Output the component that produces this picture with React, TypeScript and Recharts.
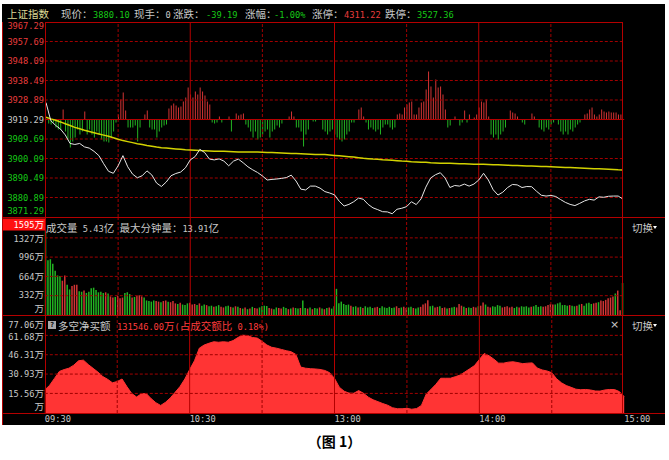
import React from 'react';
import { ComposedChart, Line, Bar, Area, XAxis, YAxis, ReferenceLine, Cell } from 'recharts';

const W = 669;
const H = 460;

const PREV_CLOSE = 3919.29;

const PRICE_TICKS = [3871.29, 3880.89, 3890.49, 3900.09, 3909.69, 3919.29, 3928.89, 3938.49, 3948.09, 3957.69, 3967.29];
const VOL_TICKS = [0, 332, 664, 996, 1327, 1595];
const NET_TICKS = [0, 15.56, 30.93, 46.31, 61.68, 77.06];
const TIME_TICKS = [0, 60, 120, 180, 240];
const TIME_LABELS = ['09:30', '10:30', '13:00', '14:00', '15:00'];
const HALF_HOURS = [30, 90, 150, 210];
const HOURS = [60, 120, 180];

// price / average / net buy, one value every 2 minutes (121)
const PRICE = [
  3927.6, 3918.7, 3916.4, 3914.6, 3911.7, 3907.5, 3907.0, 3907.5, 3905.8, 3905.2,
  3903.6, 3901.5, 3897.5, 3893.8, 3892.8, 3896.5, 3901.5, 3896.0, 3892.4, 3890.6,
  3891.6, 3894.0, 3892.0, 3888.0, 3886.3, 3888.5, 3891.6, 3892.7, 3893.4, 3895.5,
  3899.4, 3901.0, 3904.6, 3903.0, 3899.8, 3899.4, 3899.9, 3898.8, 3896.5, 3898.8,
  3899.8, 3898.0, 3896.0, 3894.5, 3893.2, 3891.5, 3889.5, 3889.8, 3890.0, 3890.3,
  3890.7, 3891.9, 3889.0, 3885.0, 3884.6, 3886.5, 3886.5, 3885.5, 3883.8, 3883.1,
  3882.2, 3879.0, 3876.7, 3877.5, 3878.8, 3880.6, 3880.0, 3877.5, 3875.8, 3874.9,
  3873.9, 3873.8, 3872.9, 3875.1, 3875.6, 3876.4, 3878.8, 3877.4, 3880.2, 3886.0,
  3890.5, 3892.1, 3893.1, 3890.5, 3885.8, 3886.8, 3886.5, 3887.5, 3886.5, 3887.5,
  3889.5, 3892.8, 3889.5, 3884.7, 3882.1, 3883.5, 3885.8, 3887.3, 3887.1, 3885.8,
  3886.3, 3886.2, 3884.0, 3882.0, 3881.6, 3881.9, 3881.4, 3879.9, 3878.5, 3877.5,
  3876.9, 3878.0, 3879.2, 3880.0, 3879.6, 3881.2, 3881.0, 3881.5, 3881.6, 3881.6, 3880.1,
];

const AVG = [
  3920.4, 3919.6, 3918.9, 3918.1, 3917.2, 3916.3, 3915.4, 3914.7, 3914.0, 3913.4,
  3912.8, 3912.2, 3911.6, 3911.0, 3910.3, 3909.6, 3908.9, 3908.4, 3907.9, 3907.4,
  3907.0, 3906.5, 3906.1, 3905.7, 3905.4, 3905.2, 3905.0, 3904.8, 3904.6, 3904.4,
  3904.3, 3904.2, 3904.0, 3903.9, 3903.8, 3903.7, 3903.6, 3903.6, 3903.5, 3903.4,
  3903.3, 3903.3, 3903.3, 3903.3, 3903.3, 3903.2, 3903.1, 3903.0, 3902.9, 3902.8,
  3902.7, 3902.6, 3902.5, 3902.4, 3902.3, 3902.2, 3902.1, 3902.0, 3902.0, 3901.8,
  3901.6, 3901.4, 3901.2, 3901.0, 3900.8, 3900.5, 3900.2, 3900.0, 3899.8, 3899.7,
  3899.5, 3899.4, 3899.2, 3899.0, 3898.8, 3898.7, 3898.5, 3898.4, 3898.3, 3898.2,
  3898.0, 3897.9, 3897.8, 3897.8, 3897.7, 3897.6, 3897.5, 3897.5, 3897.4, 3897.3,
  3897.2, 3897.2, 3897.1, 3897.0, 3897.0, 3896.9, 3896.8, 3896.7, 3896.6, 3896.5,
  3896.4, 3896.4, 3896.3, 3896.2, 3896.1, 3896.0, 3895.9, 3895.8, 3895.7, 3895.6,
  3895.5, 3895.4, 3895.3, 3895.2, 3895.1, 3895.0, 3894.9, 3894.8, 3894.7, 3894.5, 3894.4,
];

const NET = [
  18.3, 22.0, 27.5, 33.0, 34.5, 35.6, 38.0, 41.5, 42.0, 38.5,
  35.5, 32.5, 29.0, 26.8, 24.0, 25.0, 27.0, 21.0, 15.5, 12.7,
  15.2, 15.5, 11.5, 8.2, 6.0, 8.5, 12.0, 16.5, 21.0, 27.0,
  34.5, 41.5, 51.5, 54.0, 55.4, 56.6, 56.2, 56.6, 56.2, 57.5,
  60.0, 61.8, 61.5, 60.0, 59.5, 57.0, 54.0, 52.2, 51.5, 50.5,
  49.5, 48.7, 46.5, 36.5, 35.6, 35.2, 35.0, 34.6, 33.8, 32.0,
  27.5, 20.5, 17.3, 15.8, 15.7, 17.8, 15.7, 12.6, 10.5, 9.0,
  7.5, 6.2, 4.2, 3.4, 3.4, 3.7, 3.0, 3.5, 6.0, 15.0,
  18.8, 22.8, 27.6, 27.6, 27.6, 28.8, 30.1, 32.6, 35.1, 37.7,
  42.5, 47.2, 45.5, 42.8, 39.6, 39.6, 40.4, 40.7, 40.0, 39.2,
  39.6, 39.8, 35.7, 34.2, 33.4, 32.0, 27.2, 24.0, 21.8, 20.4,
  18.9, 18.5, 18.7, 18.3, 17.5, 17.4, 18.3, 18.7, 18.6, 17.0, 13.0,
];

// per-minute buy/sell strength bars (241)
const DIFF = [
  0, -4, -5, -3, -8, -10, -10, 10, -12, -20,
  -28, -22, -18, -10, -15, -12, 8, -15, -10, -15,
  -18, -12, -15, -20, -22, -22, -23, -18, -12, -3,
  5, 20, 27, 9, -8, -8, -8, -6, -22, -8,
  0, 5, 9, -8, -10, -10, -18, -12, -8, -6,
  -5, 11, 14, 16, 14, 12, 13, 18, 22, 32,
  25, 22, 28, 25, 32, 28, 24, 18, 15, -3,
  -4, -3, 3, -3, 0, 0, 3, -12, 0, 6,
  4, 5, 6, -5, -8, -12, -18, -12, -20, -18,
  -15, -12, -10, -18, -12, -10, -6, -8, -4, 0,
  0, 3, 8, 3, -8, -8, -12, -27, -15, -10,
  0, -2, -2, 0, 0, -10, -12, -15, -12, -10,
  -15, -18, -20, -22, -20, -15, -12, -3, -3, 0,
  10, 12, 3, -3, -10, -8, -10, -12, -10, -15,
  -8, -5, -5, -8, -10, -8, 5, 6, 5, 12,
  15, 17, 18, 5, 5, 12, 17, 18, 30, 48,
  33, 22, 40, 32, 33, 25, 10, -8, -6, 0,
  3, 0, -6, -3, 9, -3, 5, 0, 2, 5,
  12, 18, 17, 20, 3, -15, -18, -15, -20, -15,
  -12, -8, 0, 9, 7, 6, 3, 0, -3, -5,
  0, 0, 6, 3, 0, -8, -10, -12, -8, -10,
  -5, -3, 0, -5, -12, -15, -12, -15, -10, -12,
  -8, -5, -3, 0, 5, 6, 10, 12, 5, 3,
  5, 10, 8, 7, 8, 7, 7, 7, 5, 5, 0,
];

// per-minute volume, 万 (241)
const VOL = [
  1450, 940, 960, 880, 760, 680, 670, 590, 680, 520, 440, 500, 520, 520,
  410, 400, 420, 380, 400, 460, 470, 430, 390, 400, 380, 390, 370,
  320, 300, 310, 330, 290, 300, 380, 390, 360, 300, 310, 330, 340, 320, 300,
  250, 240, 230, 250, 240, 230, 220, 240, 250, 230, 220, 240,
  200, 190, 210, 180, 170, 200, 210, 180, 190, 170, 200, 160, 180, 170,
  150, 160, 140, 150, 170, 140, 130, 150, 160, 140, 130, 150, 140,
  120, 110, 130, 100, 110, 140, 120, 110, 130, 150, 160, 155, 120, 110, 100, 130, 120, 110, 140, 120,
  100, 110, 130, 120, 110, 120,
  250,
  120, 110, 130, 100, 120, 110, 130, 110, 100, 120, 130, 110,
  150, 450,
  200, 230, 190, 170, 180, 160, 140, 150, 130, 140, 120, 150, 130, 140, 120, 130, 140, 120, 150,
  130, 120, 140, 120, 130, 150, 120, 130, 140, 120, 130, 140, 120, 110, 130, 140, 180, 200, 255, 150,
  160, 130, 140, 150, 120, 130, 110, 120, 130, 140, 130, 190, 160, 140, 120, 130, 120, 140, 130, 150,
  160, 215, 180, 140, 130, 150, 140, 170, 160, 130, 140, 150, 130, 140, 120, 140, 130, 150, 140, 150,
  130, 140, 150, 170, 140, 150, 140, 150, 170, 190, 180, 180, 200, 215, 170, 170, 160, 170, 160, 150,
  160, 180, 190, 160, 200, 210, 190, 200, 210, 220, 250, 240, 260, 290, 300, 320, 370, 420, 80, 550,
];

// r = up minute, g = down minute
const VOL_DIR = (
  'gggggggrrggrrr ggrggggggggrg rrgrrrgggrgrrrg ggggrrgrrgrr rgrgggrrrgrggr ggrggrrggrgrg ' +
  'rgrgrgrrggggrrggrrggrgrggr g grgrggrgrgrg g g gggggrggrgrggggrrgg gggggrrgrrggrggrrrrg ' +
  'grrgrrgrggrrrgrggrrg rrgrrggggrrrrrggrggg grggggrrrrrggggggrgg rgrggggrrgrrrrrrgrrg'
).replace(/\s/g, '');

const rows = DIFF.map((d, i) => ({
  i,
  price: i % 2 === 0 ? PRICE[i / 2] : null,
  avg: i % 2 === 0 ? AVG[i / 2] : null,
  net: i % 2 === 0 ? NET[i / 2] : null,
  diff: d,
  vol: VOL[i],
}));

const RED_LINE = '#b40000';
const RED_DASH = '#a00000';
const TXT_GRAY = '#c8c8c8';
const TXT_RED = '#e83c3c';
const TXT_GREEN = '#16c816';
const BAR_RED = '#d23434';
const BAR_GREEN = '#22b422';

const ASCII_FONT = "'DejaVu Sans Mono', monospace";
const CJK_FONT = "'Noto Sans CJK SC', sans-serif";
const ASCII_SIZE = 8.7;
const CJK_SIZE = 10.5;
const TICK_CJK_SIZE = 9.5;

const CJK = /[\u2E80-\u9FFF\u3000-\u303F\uFF00-\uFFEF]/;
const runs = (s: string) => {
  const out: { t: string; cjk: boolean }[] = [];
  for (const ch of s) {
    const c = CJK.test(ch);
    const last = out[out.length - 1];
    if (last && last.cjk === c) last.t += ch;
    else out.push({ t: ch, cjk: c });
  }
  return out;
};

// html text, y = vertical centre
const Txt = ({ x, y, color, text }: { x: number; y: number; color: string; text: string }) => (
  <div style={{ position: 'absolute', left: x, top: y - 7, height: 14, lineHeight: '14px', whiteSpace: 'pre', color }}>
    {runs(text).map((r, k) => (
      <span key={k} style={{ fontFamily: r.cjk ? CJK_FONT : ASCII_FONT, fontSize: r.cjk ? CJK_SIZE : ASCII_SIZE }}>
        {r.t}
      </span>
    ))}
  </div>
);

// svg text, y = vertical centre
const SvgTxt = ({ x, y, anchor, color, text }: { x: number; y: number; anchor: string; color: string; text: string }) => (
  <text x={x} y={y + 3.2} textAnchor={anchor as any} fill={color}>
    {runs(text).map((r, k) => (
      <tspan key={k} fontFamily={r.cjk ? CJK_FONT : ASCII_FONT} fontSize={r.cjk ? TICK_CJK_SIZE : ASCII_SIZE}>
        {r.t}
      </tspan>
    ))}
  </text>
);

const priceColor = (v: number) =>
  Math.abs(v - PREV_CLOSE) < 0.001 ? TXT_GRAY : v > PREV_CLOSE ? TXT_RED : TXT_GREEN;

const edgeShift = (v: number, lo: number, hi: number, down: number, up: number) =>
  Math.abs(v - hi) < 0.001 ? down : Math.abs(v - lo) < 0.001 ? up : 0;

const PriceTick = (props: any) => {
  const v = props.payload.value;
  const dy = edgeShift(v, PRICE_TICKS[0], PRICE_TICKS[PRICE_TICKS.length - 1], 4, -6.5);
  return <SvgTxt x={44} y={props.y + dy} anchor="end" color={priceColor(v)} text={v.toFixed(2)} />;
};

const PctTick = (props: any) => {
  const v = props.payload.value;
  const dy = edgeShift(v, PRICE_TICKS[0], PRICE_TICKS[PRICE_TICKS.length - 1], 4.5, -6);
  const pct = Math.abs(((v - PREV_CLOSE) / PREV_CLOSE) * 100).toFixed(2) + '%';
  return <SvgTxt x={664} y={props.y + dy} anchor="end" color={priceColor(v)} text={pct} />;
};

const VolTick = (props: any) => {
  const v = props.payload.value;
  if (v === 0) return <SvgTxt x={44} y={props.y - 6.3} anchor="end" color={TXT_GRAY} text="万" />;
  if (v === VOL_TICKS[VOL_TICKS.length - 1]) {
    return (
      <g>
        <rect x={2} y={218.5} width={43} height={12} fill="#ff1010" />
        <SvgTxt x={44} y={props.y + 2.2} anchor="end" color="#ffffff" text={`${v}万`} />
      </g>
    );
  }
  const dy = v === 1327 ? 0.6 : v === 332 ? -0.8 : 0;
  return <SvgTxt x={44} y={props.y + dy} anchor="end" color={TXT_GRAY} text={`${v}万`} />;
};

const NetTick = (props: any) => {
  const v = props.payload.value;
  if (v === 0) return <SvgTxt x={44} y={props.y - 6.5} anchor="end" color={TXT_GRAY} text="万" />;
  const dy = v === NET_TICKS[NET_TICKS.length - 1] ? 8.5 : v === 61.68 ? 1.6 : 0;
  return <SvgTxt x={44} y={props.y + dy} anchor="end" color={TXT_GRAY} text={`${v.toFixed(2)}万`} />;
};

const TimeTick = (props: any) => {
  const label = TIME_LABELS[TIME_TICKS.indexOf(props.payload.value)];
  return <SvgTxt x={props.x} y={419} anchor="start" color={TXT_GRAY} text={label ?? ''} />;
};

const vGrid = (yAxisId: string) => [
  ...HALF_HOURS.map((t) => (
    <ReferenceLine key={`h${t}`} x={t} yAxisId={yAxisId} stroke={RED_DASH} strokeDasharray="3 2" />
  )),
  ...HOURS.map((t) => <ReferenceLine key={`o${t}`} x={t} yAxisId={yAxisId} stroke={RED_LINE} />),
];

const abs: React.CSSProperties = { position: 'absolute', left: 0, top: 0 };

const MainChart = () => (
  <ComposedChart width={W} height={H} data={rows} margin={{ top: 22, right: 0, bottom: H - 217, left: 0 }}>
    <XAxis dataKey="i" hide />
    <YAxis yAxisId="p" domain={[PRICE_TICKS[0], PRICE_TICKS[10]]} ticks={PRICE_TICKS} interval={0}
      width={44.8} axisLine={false} tickLine={false} tick={PriceTick} />
    <YAxis yAxisId="pct" orientation="right" domain={[PRICE_TICKS[0], PRICE_TICKS[10]]} ticks={PRICE_TICKS}
      interval={0} width={44.8} axisLine={false} tickLine={false} tick={PctTick} />
    <YAxis yAxisId="d" hide domain={[-97.5, 97.5]} />
    {PRICE_TICKS.slice(1, -1).filter((v) => v !== PREV_CLOSE).map((v) => (
      <ReferenceLine key={v} yAxisId="p" y={v} stroke={RED_DASH} strokeDasharray="3 2" />
    ))}
    {vGrid('p')}
    <ReferenceLine yAxisId="p" y={PREV_CLOSE} stroke={RED_LINE} />
    <Bar yAxisId="d" dataKey="diff" barSize={1} isAnimationActive={false}>
      {rows.map((r) => (
        <Cell key={r.i} fill={r.diff >= 0 ? BAR_RED : BAR_GREEN} />
      ))}
    </Bar>
    <Line yAxisId="p" dataKey="avg" stroke="#d2d200" strokeWidth={1.5} dot={false} connectNulls isAnimationActive={false} />
    <Line yAxisId="p" dataKey="price" stroke="#e6e6e6" strokeWidth={1} dot={false} connectNulls isAnimationActive={false} />
  </ComposedChart>
);

const VolumeChart = () => (
  <ComposedChart width={W} height={H} data={rows} margin={{ top: 217, right: 44.8, bottom: H - 315, left: 0 }}>
    <XAxis dataKey="i" hide />
    <YAxis yAxisId="v" domain={[0, 1686]} ticks={VOL_TICKS} interval={0} width={44.8}
      axisLine={false} tickLine={false} tick={VolTick} />
    {VOL_TICKS.slice(1, -1).map((v) => (
      <ReferenceLine key={v} yAxisId="v" y={v} stroke={RED_DASH} strokeDasharray="3 2" />
    ))}
    {vGrid('v')}
    <Bar yAxisId="v" dataKey="vol" barSize={1.5} isAnimationActive={false}>
      {rows.map((r) => (
        <Cell key={r.i} fill={VOL_DIR[r.i] === 'r' ? BAR_RED : BAR_GREEN} />
      ))}
    </Bar>
  </ComposedChart>
);

const NetChart = () => (
  <ComposedChart width={W} height={H} data={rows} margin={{ top: 316, right: 44.8, bottom: 0, left: 0 }}>
    <XAxis dataKey="i" ticks={TIME_TICKS} interval={0} height={47} axisLine={false} tickLine={false} tick={TimeTick} />
    <YAxis yAxisId="n" domain={[0, 77.06]} ticks={NET_TICKS} interval={0} width={44.8}
      axisLine={false} tickLine={false} tick={NetTick} />
    {NET_TICKS.slice(1, -1).map((v) => (
      <ReferenceLine key={v} yAxisId="n" y={v} stroke={RED_DASH} strokeDasharray="3 2" />
    ))}
    {vGrid('n')}
    <Area yAxisId="n" dataKey="net" type="linear" stroke="#ff3434" fill="#ff3434" fillOpacity={1}
      connectNulls isAnimationActive={false} />
  </ComposedChart>
);

const hLine = (top: number, left: number, width: number) => (
  <div style={{ position: 'absolute', left, top, width, height: 1, background: RED_LINE }} />
);
const vLine = (left: number, top: number, height: number) => (
  <div style={{ position: 'absolute', left, top, width: 1, height, background: RED_LINE }} />
);

export default function App() {
  return (
    <div style={{ position: 'absolute', left: 0, top: 0, width: W, height: H, background: '#fff', overflow: 'hidden' }}>
      <div style={{ position: 'absolute', left: 2, top: 4, width: 663, height: 421, background: '#000' }} />

      <div style={abs}><MainChart /></div>
      <div style={abs}><VolumeChart /></div>
      <div style={abs}><NetChart /></div>

      {hLine(22, 45, 578)}
      {hLine(217, 2, 663)}
      {hLine(315, 2, 663)}
      {hLine(413, 2, 663)}
      {vLine(2, 22, 403)}
      {vLine(45, 22, 391)}
      {vLine(622, 22, 391)}

      <Txt x={7} y={13} color="#dcd896" text="上证指数" />
      <Txt x={61} y={13} color={TXT_GRAY} text="现价：" />
      <Txt x={93} y={13} color={TXT_GREEN} text="3880.10" />
      <Txt x={134} y={13} color={TXT_GRAY} text="现手：0" />
      <Txt x={173} y={13} color={TXT_GRAY} text="涨跌：" />
      <Txt x={206} y={13} color={TXT_GREEN} text="-39.19" />
      <Txt x={245} y={13} color={TXT_GRAY} text="涨幅：" />
      <Txt x={274} y={13} color={TXT_GREEN} text="-1.00%" />
      <Txt x={312} y={13} color={TXT_GRAY} text="涨停：" />
      <Txt x={344} y={13} color={TXT_RED} text="4311.22" />
      <Txt x={385} y={13} color={TXT_GRAY} text="跌停：" />
      <Txt x={417} y={13} color={TXT_GREEN} text="3527.36" />

      <Txt x={46} y={227} color={TXT_GRAY} text="成交量 5.43亿 最大分钟量：13.91亿" />
      <Txt x={632} y={227} color={TXT_GRAY} text="切换" />
      <div style={{ position: 'absolute', left: 653, top: 226, width: 0, height: 0, borderLeft: '2px solid transparent', borderRight: '2px solid transparent', borderTop: '3px solid #fff' }} />

      <div style={{ position: 'absolute', left: 48, top: 321, width: 8, height: 8, background: '#a8a8a8', color: '#000', fontSize: 7, lineHeight: '8px', textAlign: 'center', fontFamily: ASCII_FONT, fontWeight: 700 }}>?</div>
      <Txt x={58} y={325} color={TXT_GRAY} text="多空净买额" />
      <Txt x={117} y={325} color="#ff3c3c" text="131546.00万(占成交额比 0.18%)" />
      <div style={{ position: 'absolute', left: 610, top: 318, fontSize: 11, lineHeight: '14px', color: TXT_GRAY, fontFamily: "'DejaVu Sans', sans-serif" }}>×</div>
      <Txt x={632} y={325} color={TXT_GRAY} text="切换" />
      <div style={{ position: 'absolute', left: 653, top: 324, width: 0, height: 0, borderLeft: '2px solid transparent', borderRight: '2px solid transparent', borderTop: '3px solid #fff' }} />

      <div style={{ position: 'absolute', left: 0, top: 432, width: W, textAlign: 'center', fontFamily: CJK_FONT, fontSize: 14, fontWeight: 700, color: '#000', lineHeight: '18px' }}>
        （图 1）
      </div>
    </div>
  );
}
